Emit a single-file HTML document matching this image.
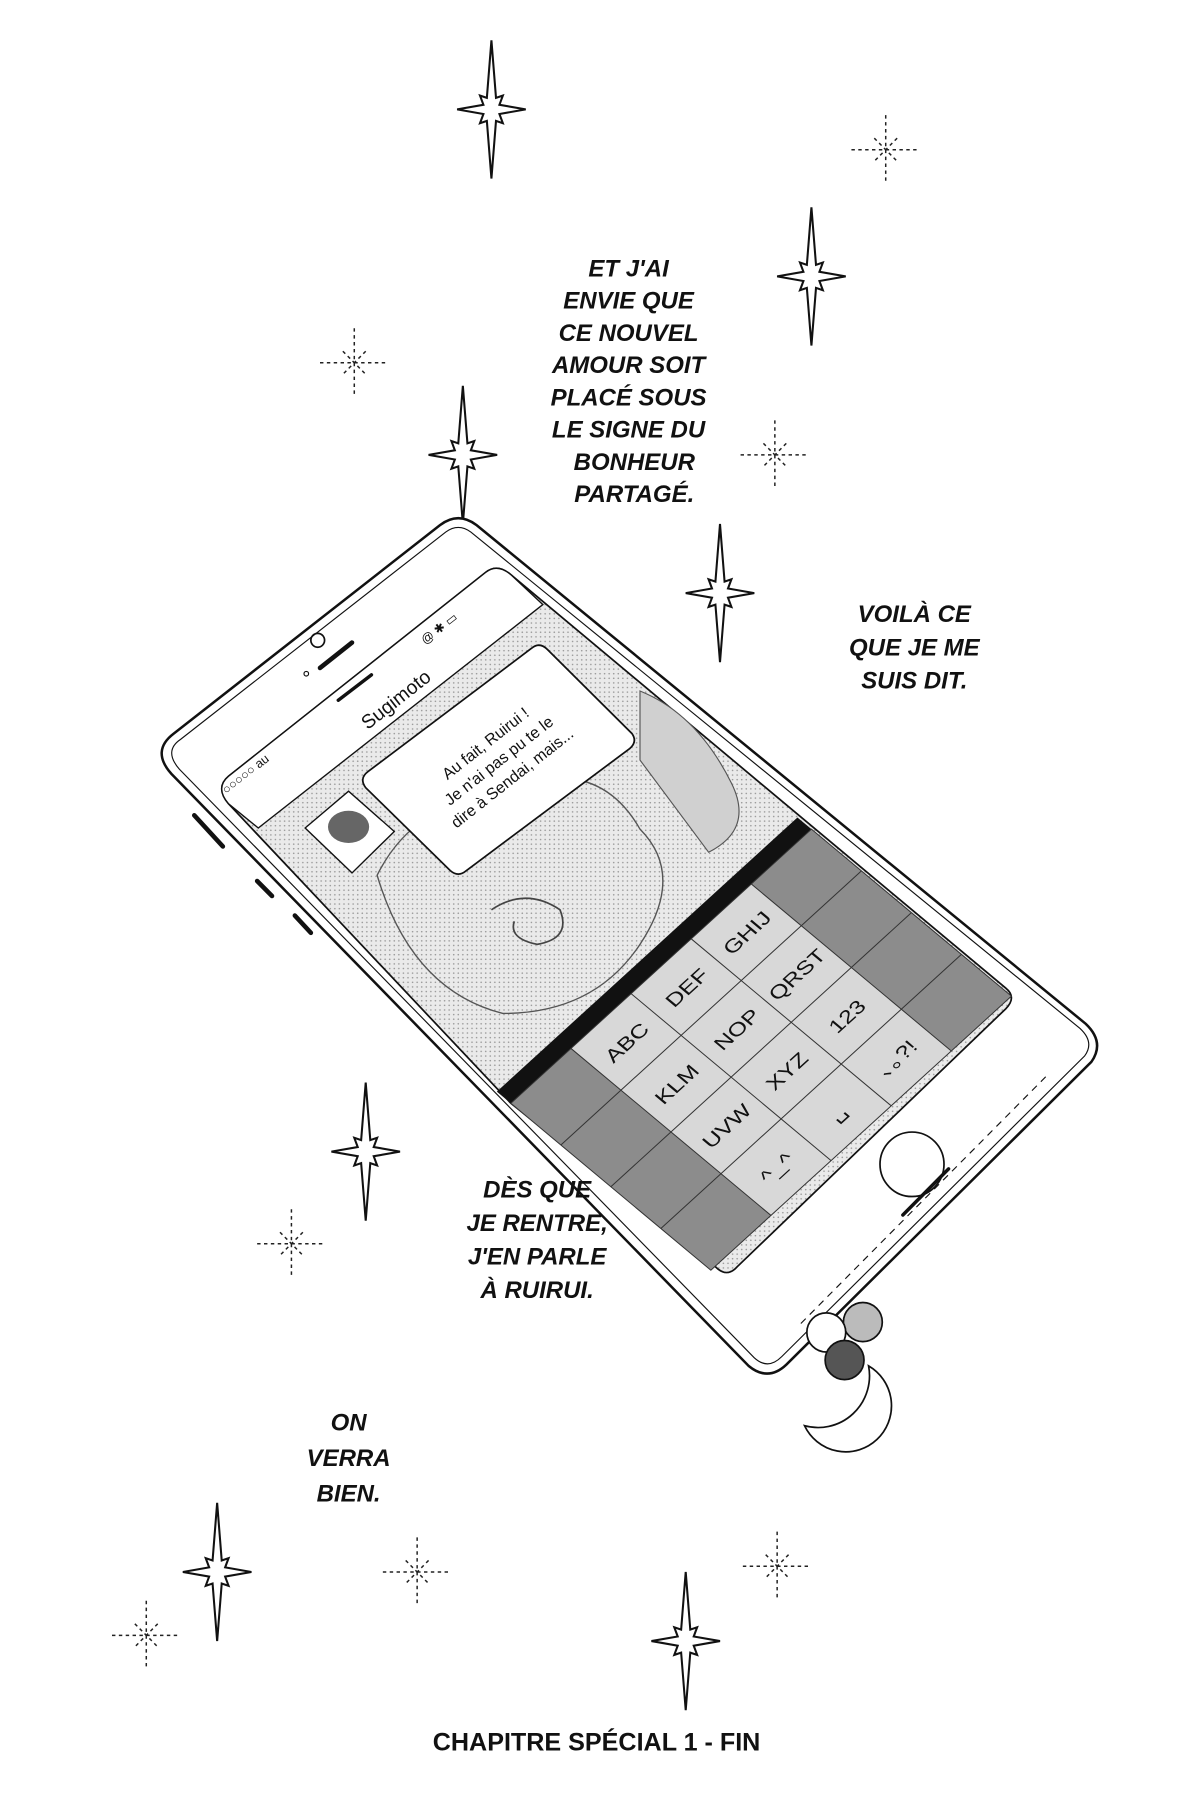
<!DOCTYPE html>
<html><head><meta charset="utf-8"><style>
html,body{margin:0;padding:0;background:#fff;}
svg{display:block}
.t{font-family:"Liberation Sans",sans-serif;font-weight:bold;font-style:italic;font-size:21px;fill:#111;text-anchor:middle}
</style></head><body>
<svg width="1200" height="1800" viewBox="0 0 1050 1563" preserveAspectRatio="none" xmlns="http://www.w3.org/2000/svg">
<defs>
<g id="bs"><path d="M0,-60 L4,-10 L10,-12 L7,-4 L30,0 L7,4 L10,12 L4,10 L0,60 L-4,10 L-10,12 L-7,4 L-30,0 L-7,-4 L-10,-12 L-4,-10 Z" fill="#fff" stroke="#111" stroke-width="1.8"/></g>
<g id="ds" stroke="#222" stroke-width="1.3" stroke-dasharray="3,3" fill="none"><path d="M0,-30 V30 M-30,0 H30 M-10,-10 L10,10 M10,-10 L-10,10"/></g>
<pattern id="dots" width="4" height="4" patternUnits="userSpaceOnUse"><rect width="4" height="4" fill="#eaeaea"/><circle cx="1" cy="1" r="0.7" fill="#999"/></pattern>
</defs>
<rect width="1050" height="1563" fill="#fff"/>
<!-- stars -->
<use href="#bs" x="430" y="95"/><use href="#bs" x="710" y="240"/><use href="#bs" x="405" y="395"/>
<use href="#bs" x="630" y="515"/><use href="#bs" x="320" y="1000"/><use href="#bs" x="190" y="1365"/><use href="#bs" x="600" y="1425"/>
<use href="#ds" x="775" y="130"/><use href="#ds" x="310" y="315"/><use href="#ds" x="678" y="395"/>
<use href="#ds" x="255" y="1080"/><use href="#ds" x="365" y="1365"/><use href="#ds" x="128" y="1420"/><use href="#ds" x="680" y="1360"/>
<!-- phone body -->
<path d="M385,456 Q401,444 417,456 L950,889 Q967,905 955,922 L688,1185 Q672,1200 655,1186 L150,672 Q132,652 152,637 Z" fill="#fff" stroke="#111" stroke-width="2.2"/>
<path d="M390,462 Q401,454 412,462 L945,893 Q958,905 949,917 L684,1178 Q672,1190 660,1179 L157,668 Q143,652 158,642 Z" fill="none" stroke="#111" stroke-width="1"/>
<path d="M170,708 L195,735 M225,765 L238,778 M258,795 L272,810" stroke="#111" stroke-width="4" stroke-linecap="round"/>
<!-- screen -->
<path d="M425,497 Q435,489 447,499 L880,858 Q890,866 880,876 L645,1100 Q636,1110 626,1100 L447,958 L200,698 Q188,684 200,674 Z" fill="url(#dots)" stroke="#111" stroke-width="1.5"/>
<path d="M425,497 Q435,489 447,499 L475,525 L226,719 L200,698 Q188,684 200,674 Z" fill="#fff" stroke="#111" stroke-width="1.2"/>
<!-- cake outlines -->
<path d="M330,760 Q360,700 430,690 Q520,650 560,720 Q600,760 560,820 Q520,880 440,880 Q360,860 330,760 Z" fill="none" stroke="#555" stroke-width="1.2"/>
<path d="M430,790 Q460,770 490,790 Q500,815 470,820 Q445,815 450,800" fill="none" stroke="#444" stroke-width="1.5"/>
<path d="M560,600 Q610,620 640,680 Q660,720 620,740 Q590,700 560,660 Z" fill="#d0d0d0" stroke="#555" stroke-width="1"/>
<path d="M267,719 L305,687 L345,722 L308,758 Z" fill="#fff" stroke="#111" stroke-width="1.2"/>
<ellipse cx="305" cy="718" rx="18" ry="14" fill="#666"/>
<!-- speech bubble -->
<path d="M322,670 L465,563 Q472,557 479,564 L553,637 Q558,644 551,650 L408,756 Q401,762 394,756 L320,684 Q314,676 322,670 Z" fill="#fff" stroke="#111" stroke-width="1.5"/>
<g font-family="Liberation Sans,sans-serif" font-size="14" fill="#111" text-anchor="middle" transform="rotate(-38 440 665)">
<text x="440" y="645">Au fait, Ruirui !</text><text x="440" y="664">Je n'ai pas pu te le</text><text x="440" y="683">dire à Sendai, mais...</text></g>
<text x="350" y="612" font-family="Liberation Sans,sans-serif" font-size="17" fill="#111" text-anchor="middle" transform="rotate(-38 350 612)">Sugimoto</text>
<text x="198" y="690" font-family="Liberation Sans,sans-serif" font-size="11" fill="#111" transform="rotate(-38 198 690)">○○○○○ au</text>
<text x="372" y="560" font-family="Liberation Sans,sans-serif" font-size="11" fill="#111" transform="rotate(-38 372 560)">@ ✱ ▭</text>
<circle cx="278" cy="556" r="6" fill="none" stroke="#111" stroke-width="1.5"/>
<line x1="280" y1="580" x2="308" y2="558" stroke="#111" stroke-width="4" stroke-linecap="round"/>
<circle cx="268" cy="585" r="2" fill="none" stroke="#111"/>
<line x1="296" y1="608" x2="325" y2="586" stroke="#111" stroke-width="3" stroke-linecap="round"/>
<!-- keyboard -->
<g transform="matrix(52.6,-47.6,43.75,36.25,447,958)">
<rect x="0" y="-0.28" width="5" height="0.28" fill="#111"/>
<rect x="0" y="0" width="5" height="4" fill="#d8d8d8"/>
<rect x="0" y="0" width="1" height="4" fill="#8c8c8c"/>
<rect x="4" y="0" width="1" height="4" fill="#8c8c8c"/>
<g stroke="#333" fill="none">
<path d="M1,0V4M2,0V4M3,0V4M4,0V4M0,1H5M0,2H5M0,3H5" vector-effect="non-scaling-stroke" stroke-width="1"/>
<rect x="0" y="0" width="5" height="4" vector-effect="non-scaling-stroke" stroke-width="1"/>
</g>
<g font-family="Liberation Sans,sans-serif" font-size="0.3" fill="#111" text-anchor="middle">
<text x="1.5" y="0.62">ABC</text><text x="2.5" y="0.62">DEF</text><text x="3.5" y="0.62">GHIJ</text>
<text x="1.5" y="1.62">KLM</text><text x="2.5" y="1.62">NOP</text><text x="3.5" y="1.62">QRST</text>
<text x="1.5" y="2.62">UVW</text><text x="2.5" y="2.62">XYZ</text><text x="3.5" y="2.62">123</text>
<text x="1.5" y="3.62">^_^</text><text x="2.5" y="3.62">␣</text><text x="3.5" y="3.62">､｡?!</text>
</g>
</g>
<circle cx="798" cy="1011" r="28" fill="#fff" stroke="#111" stroke-width="1.5"/>
<path d="M915,935 L700,1150" stroke="#111" stroke-width="1" stroke-dasharray="6,5"/>
<line x1="790" y1="1055" x2="830" y2="1015" stroke="#111" stroke-width="3" stroke-linecap="round"/>
<!-- charm -->
<path d="M760,1186 A40,40 0 1 1 704,1238 A45,45 0 0 0 760,1186 Z" fill="#fff" stroke="#111" stroke-width="1.5"/>
<circle cx="755" cy="1148" r="17" fill="#bbb" stroke="#111" stroke-width="1.5"/>
<circle cx="723" cy="1157" r="17" fill="#fff" stroke="#111" stroke-width="1.5"/>
<circle cx="739" cy="1181" r="17" fill="#555" stroke="#111" stroke-width="1.5"/>
<!-- texts -->
<g class="t">
<text x="550" y="240">ET J'AI</text><text x="550" y="268">ENVIE QUE</text><text x="550" y="296">CE NOUVEL</text>
<text x="550" y="324">AMOUR SOIT</text><text x="550" y="352">PLACÉ SOUS</text><text x="550" y="380">LE SIGNE DU</text>
<text x="555" y="408">BONHEUR</text><text x="555" y="436">PARTAGÉ.</text>
<text x="800" y="540">VOILÀ CE</text><text x="800" y="569">QUE JE ME</text><text x="800" y="598">SUIS DIT.</text>
<text x="470" y="1040">DÈS QUE</text><text x="470" y="1069">JE RENTRE,</text><text x="470" y="1098">J'EN PARLE</text><text x="470" y="1127">À RUIRUI.</text>
<text x="305" y="1242">ON</text><text x="305" y="1273">VERRA</text><text x="305" y="1304">BIEN.</text>
</g>
<text x="522" y="1520" font-family="Liberation Sans,sans-serif" font-weight="bold" font-size="22" fill="#111" text-anchor="middle">CHAPITRE SPÉCIAL 1 - FIN</text>
</svg>
</body></html>
